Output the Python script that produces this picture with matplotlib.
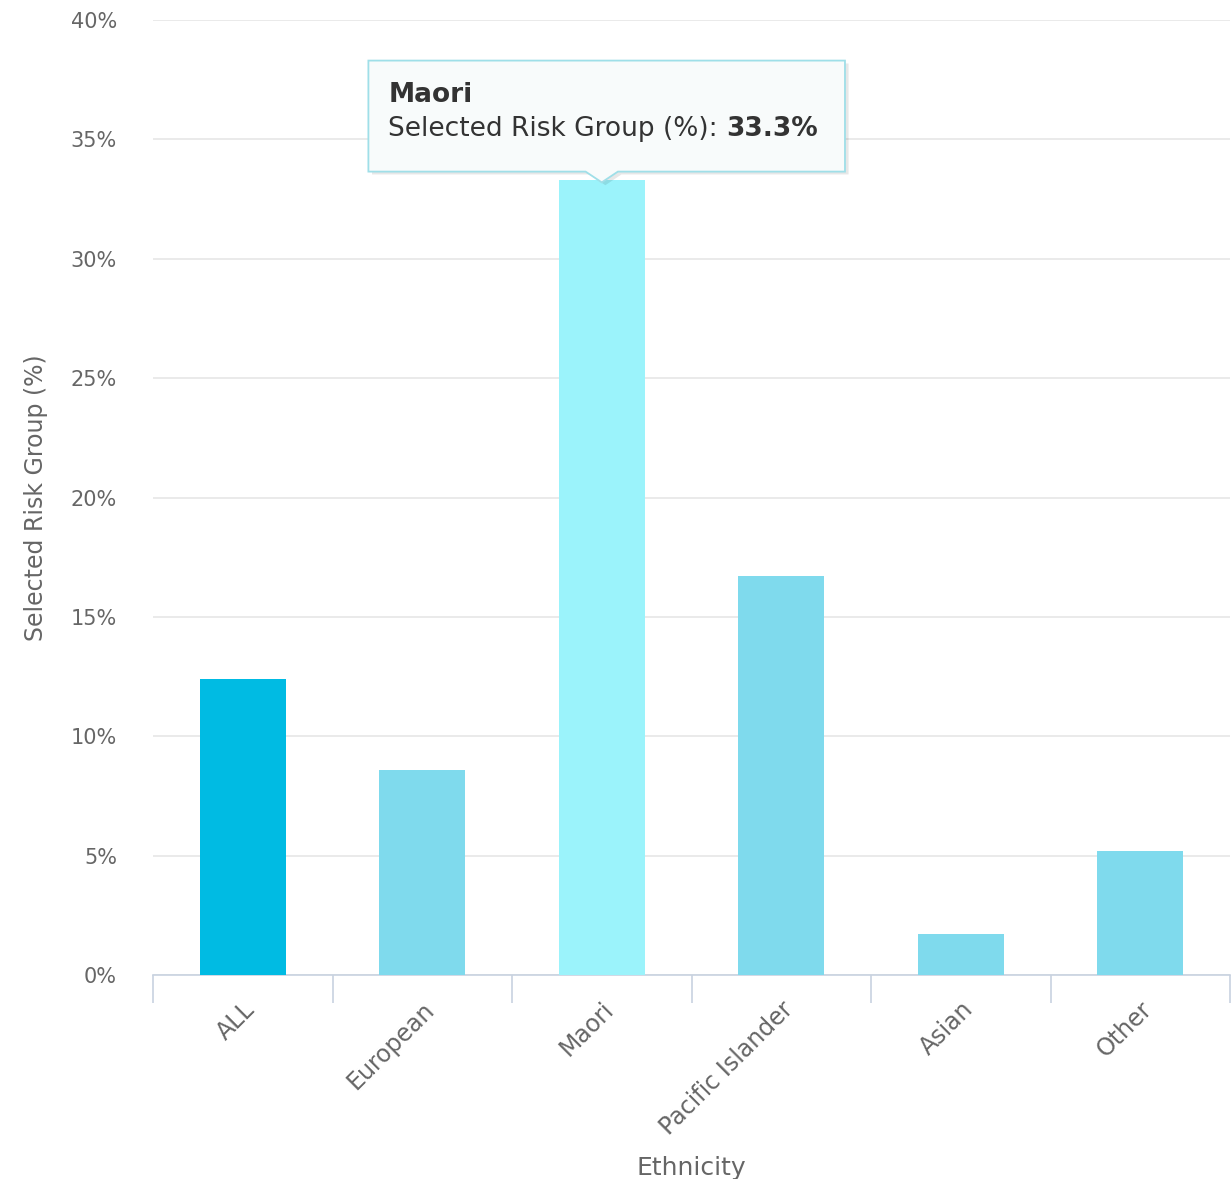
import matplotlib
matplotlib.use("Agg")
import matplotlib.pyplot as plt
from matplotlib.patches import Polygon
from matplotlib.ticker import FuncFormatter, FixedLocator, NullFormatter

categories = ["ALL", "European", "Maori", "Pacific Islander", "Asian", "Other"]
values = [12.4, 8.6, 33.3, 16.7, 1.7, 5.2]
bar_colors = ["#00bbe3", "#7fdaed", "#9bf3fb", "#7fdaed", "#7fdaed", "#7fdaed"]
yticks = [0, 5, 10, 15, 20, 25, 30, 35, 40]
tooltip_title = "Maori"
tooltip_label = "Selected Risk Group (%): "
tooltip_value = "33.3%"

plt.rcParams['font.family'] = ['DejaVu Sans']

W, H = 1232, 1179
fig = plt.figure(figsize=(W / 100, H / 100), dpi=100)
ax = fig.add_axes([153 / W, 1 - 975 / H, (1230 - 153) / W, (975 - 20) / H])

x = list(range(len(categories)))
ax.bar(x, values, width=0.48, color=bar_colors, zorder=3)

ax.set_xlim(-0.5, len(categories) - 0.5)
ax.set_ylim(0, 40)
ax.set_yticks(yticks)
ax.yaxis.set_major_formatter(FuncFormatter(lambda v, p: f"{int(v)}%"))
ax.grid(axis='y', color='#e6e6e6', linewidth=1.2, zorder=0)
ax.tick_params(axis='y', length=0, labelsize=15, labelcolor='#666666', pad=26)

# category boundary ticks
ax.xaxis.set_major_locator(FixedLocator([i - 0.5 for i in range(len(categories) + 1)]))
ax.xaxis.set_major_formatter(NullFormatter())
ax.xaxis.set_minor_locator(FixedLocator(x))
ax.set_xticklabels(categories, minor=True, rotation=45, ha='right', rotation_mode='anchor')
ax.tick_params(axis='x', which='major', length=20, color='#c8d2e0', width=1.2, direction='out')
ax.tick_params(axis='x', which='minor', length=0, labelsize=17, labelcolor='#666666', pad=16)

for s in ['top', 'right', 'left']:
    ax.spines[s].set_visible(False)
ax.spines['bottom'].set_color('#c8d2e0')
ax.spines['bottom'].set_linewidth(1.2)

ax.set_ylabel("Selected Risk Group (%)", fontsize=17, color='#666666', labelpad=16)
ax.set_xlabel("Ethnicity", fontsize=18, color='#666666', labelpad=12)

# Tooltip
x0, x1 = 0.70, 3.355
y0, y1 = 33.65, 38.3
tip_x, tip_y = 2.0, values[2]
pts = [(x0, y1), (x1, y1), (x1, y0), (tip_x + 0.09, y0), (tip_x, tip_y - 0.1),
       (tip_x - 0.09, y0), (x0, y0)]
shadow = Polygon([(px + 0.02, py - 0.12) for px, py in pts], closed=True,
                 facecolor='#00000018', edgecolor='none', zorder=4)
ax.add_patch(shadow)
box = Polygon(pts, closed=True, facecolor='#f8fbfb', edgecolor='#9fdfe8',
              linewidth=1.3, zorder=5)
ax.add_patch(box)

ax.text(x0 + 0.11, 36.85, tooltip_title, fontsize=19, fontweight='bold',
        color='#333333', va='center', ha='left', zorder=6)
t1 = ax.text(x0 + 0.11, 35.45, tooltip_label, fontsize=19, color='#333333',
             va='center', ha='left', zorder=6)
fig.canvas.draw()
bb = t1.get_window_extent(renderer=fig.canvas.get_renderer())
xd = ax.transData.inverted().transform((bb.x1, bb.y0))[0]
ax.text(xd, 35.45, tooltip_value, fontsize=19, fontweight='bold', color='#333333',
        va='center', ha='left', zorder=6)

fig.savefig("out.png", dpi=100, facecolor='white')
